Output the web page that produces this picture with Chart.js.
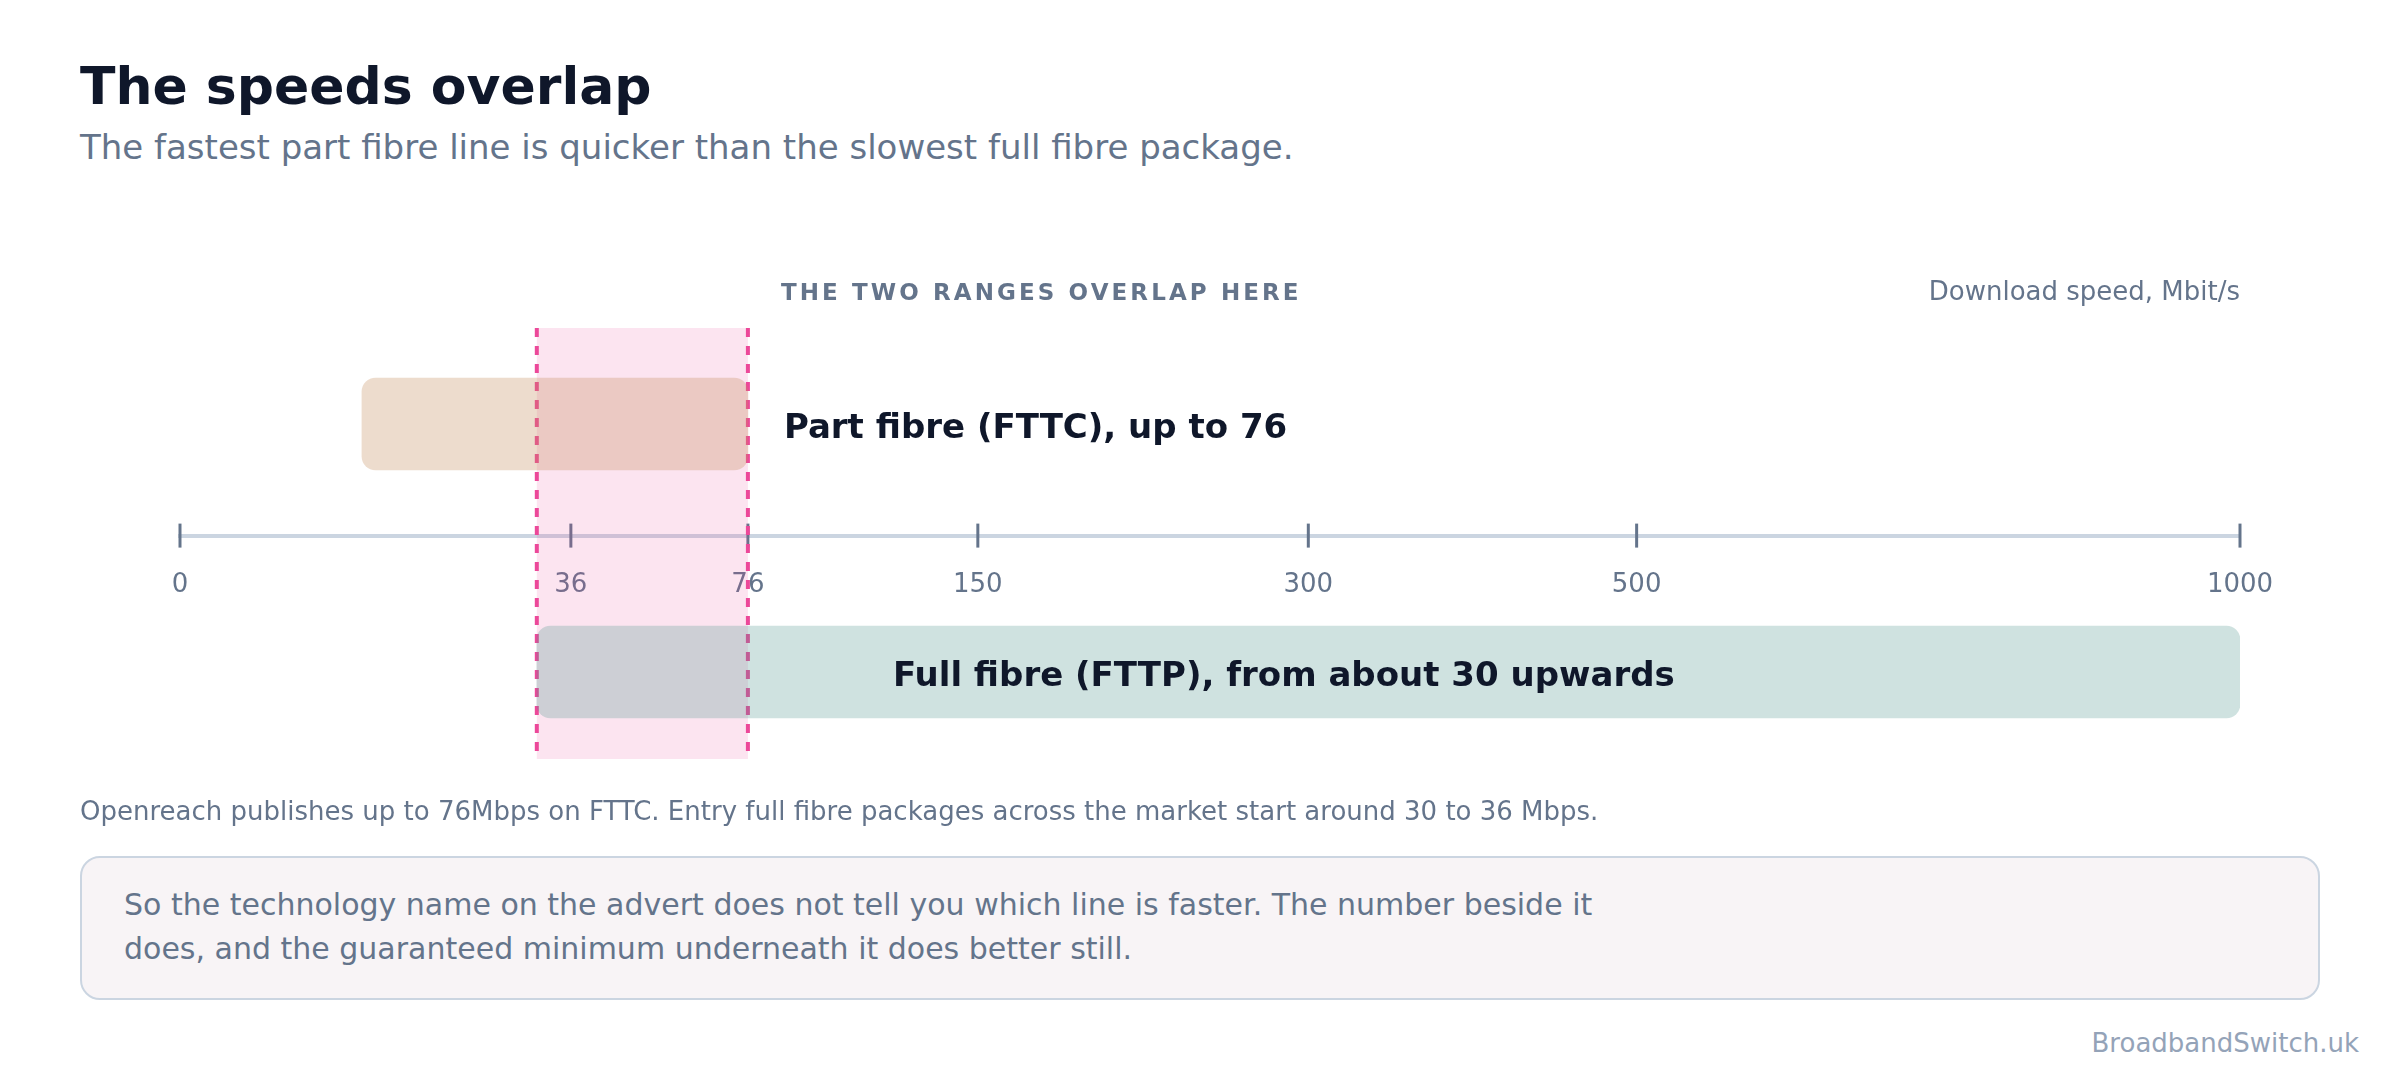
<!DOCTYPE html>
<html>
<head>
<meta charset="utf-8">
<script src="https://cdn.jsdelivr.net/npm/chart.js@4.4.1/dist/chart.umd.min.js"></script>
<style>
  html, body { margin: 0; padding: 0; background: #ffffff; }
  body { width: 2400px; height: 1080px; position: relative; overflow: hidden; font-family: "DejaVu Sans", sans-serif; }
  .t { position: absolute; line-height: 1; white-space: nowrap; margin: 0; }
  #title { left: 80px; top: 60px; font-size: 52px; font-weight: bold; color: #0f172a; }
  #subtitle { left: 80px; top: 130px; font-size: 34px; color: #64748b; }
  #note { left: 80px; top: 798px; font-size: 26px; color: #64748b; }
  #callout { position: absolute; left: 80px; top: 856px; width: 2240px; height: 144px; box-sizing: border-box;
    border: 2px solid #cbd5e1; border-radius: 20px; background: #f8f4f6; padding: 25px 42px; }
  #callout p { margin: 0; max-width: 1520px; font-size: 30px; line-height: 44px; color: #64748b; }
  #brand { right: 41px; top: 1030px; font-size: 26px; color: #94a3b8; }
  #chartBox { position: absolute; left: 0; top: 240px; width: 2400px; height: 580px; }
</style>
</head>
<body>
<h1 class="t" id="title">The speeds overlap</h1>
<div class="t" id="subtitle">The fastest part fibre line is quicker than the slowest full fibre package.</div>
<div id="chartBox"><canvas id="chart"></canvas></div>
<div class="t" id="note">Openreach publishes up to 76Mbps on FTTC. Entry full fibre packages across the market start around 30 to 36 Mbps.</div>
<div id="callout"><p>So the technology name on the advert does not tell you which line is faster. The number beside it does, and the guaranteed minimum underneath it does better still.</p></div>
<div class="t" id="brand">BroadbandSwitch.uk</div>
<script>
// data
const categories = ['Part fibre (FTTC)', 'Full fibre (FTTP)'];
const rangeLow = [7.8, 30];
const rangeHigh = [76, 1000];
const barLabels = ['Part fibre (FTTC), up to 76', 'Full fibre (FTTP), from about 30 upwards'];
const labelAnchors = [76, 108];
const tickValues = [0, 36, 76, 150, 300, 500, 1000];
const overlapRange = [30, 76];
const barColors = ['rgba(195, 138, 88, 0.3)', 'rgba(77, 148, 140, 0.27)'];

Chart.defaults.font.family = '"DejaVu Sans", sans-serif';

// square-root axis, the speeds are squashed towards the top end
class SqrtScale extends Chart.LinearScale {
  getPixelForValue(value) {
    const lo = Math.sqrt(this.min), hi = Math.sqrt(this.max);
    return this.getPixelForDecimal((Math.sqrt(value) - lo) / (hi - lo));
  }
  getValueForPixel(pixel) {
    const lo = Math.sqrt(this.min), hi = Math.sqrt(this.max);
    const s = lo + this.getDecimalForPixel(pixel) * (hi - lo);
    return s * s;
  }
}
SqrtScale.id = 'sqrt';
SqrtScale.defaults = Chart.LinearScale.defaults;
Chart.register(SqrtScale);

const axisAt = 0.45;

const overlapPlugin = {
  id: 'overlap',
  beforeDatasetsDraw(chart) {
    const { ctx, chartArea, scales: { x, y } } = chart;
    const axisY = y.getPixelForValue(axisAt);
    ctx.save();
    // tick marks across the axis line
    ctx.strokeStyle = '#64748b';
    ctx.lineWidth = 3;
    tickValues.forEach(v => {
      const px = x.getPixelForValue(v);
      ctx.beginPath();
      ctx.moveTo(px, axisY - 12);
      ctx.lineTo(px, axisY + 12);
      ctx.stroke();
    });
    // shaded overlap band
    const x0 = x.getPixelForValue(overlapRange[0]);
    const x1 = x.getPixelForValue(overlapRange[1]);
    const top = chartArea.top + 28, bottom = chartArea.bottom - 37;
    ctx.fillStyle = 'rgba(236, 72, 153, 0.15)';
    ctx.fillRect(x0, top, x1 - x0, bottom - top);
    ctx.strokeStyle = '#ec4899';
    ctx.lineWidth = 4;
    ctx.setLineDash([9, 9]);
    [x0, x1].forEach(px => {
      ctx.beginPath();
      ctx.moveTo(px, top);
      ctx.lineTo(px, bottom);
      ctx.stroke();
    });
    ctx.restore();
  },
  afterDatasetsDraw(chart) {
    const { ctx, chartArea, scales: { x, y } } = chart;
    ctx.save();
    ctx.textBaseline = 'alphabetic';
    // header over the band and the axis title
    ctx.fillStyle = '#64748b';
    ctx.font = 'bold 23px "DejaVu Sans"';
    ctx.letterSpacing = '3.1px';
    ctx.textAlign = 'left';
    ctx.fillText('THE TWO RANGES OVERLAP HERE', x.getPixelForValue(overlapRange[1]) + 33, chartArea.top);
    ctx.letterSpacing = '0px';
    ctx.font = '26px "DejaVu Sans"';
    ctx.textAlign = 'right';
    ctx.fillText('Download speed, Mbit/s', chartArea.right, chartArea.top);
    // bar labels
    ctx.fillStyle = '#0f172a';
    ctx.font = 'bold 34px "DejaVu Sans"';
    ctx.textAlign = 'left';
    ctx.textBaseline = 'middle';
    barLabels.forEach((txt, i) => {
      ctx.fillText(txt, x.getPixelForValue(labelAnchors[i]) + 36, y.getPixelForValue(i) + 5);
    });
    ctx.restore();
  }
};

new Chart(document.getElementById('chart'), {
  type: 'bar',
  data: {
    labels: categories,
    datasets: [{
      data: categories.map((c, i) => [rangeLow[i], rangeHigh[i]]),
      backgroundColor: barColors,
      borderWidth: 0,
      borderRadius: 14,
      borderSkipped: false,
      barThickness: 92
    }]
  },
  options: {
    indexAxis: 'y',
    responsive: true,
    maintainAspectRatio: false,
    animation: false,
    layout: { padding: { top: 60, bottom: 24, left: 180, right: 160 } },
    scales: {
      x: {
        type: 'sqrt',
        min: 0,
        max: 1000,
        position: { y: axisAt },
        afterBuildTicks: scale => { scale.ticks = tickValues.map(v => ({ value: v })); },
        grid: { display: false, drawTicks: false },
        border: { display: true, color: '#cbd5e1', width: 4 },
        ticks: { color: '#64748b', font: { size: 26 }, padding: 34, maxRotation: 0, autoSkip: false, callback: v => String(v) }
      },
      y: { display: false }
    },
    plugins: { legend: { display: false }, tooltip: { enabled: false } }
  },
  plugins: [overlapPlugin]
});
</script>
</body>
</html>
